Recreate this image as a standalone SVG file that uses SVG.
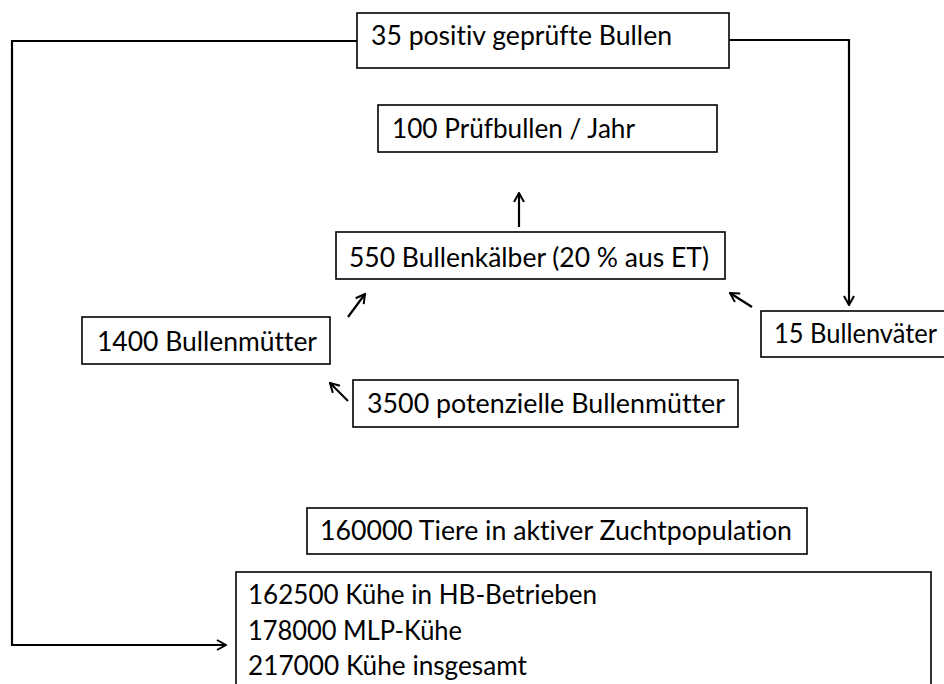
<svg xmlns="http://www.w3.org/2000/svg" width="944" height="684" viewBox="0 0 944 684">
<defs>
<marker id="ah" viewBox="0 0 12 12" refX="11" refY="6" markerWidth="12" markerHeight="12" markerUnits="userSpaceOnUse" orient="auto">
<polyline points="2,1 11,6 2,11" fill="none" stroke="#000" stroke-width="2"/>
</marker>
<marker id="ahs" viewBox="0 0 12 12" refX="11" refY="6" markerWidth="12" markerHeight="12" markerUnits="userSpaceOnUse" orient="auto">
<polyline points="2,1 11,6 2,11" fill="none" stroke="#000" stroke-width="2"/>
</marker>
</defs>
<style>
.box{fill:#fff;stroke:#000;stroke-width:1.6}
.t{font-family:Lato,"Open Sans","Liberation Sans",sans-serif;font-size:26px;fill:#000;font-variant-ligatures:none}
.c{fill:none;stroke:#000;stroke-width:2.2}
</style>
<rect width="944" height="684" fill="#fff"/>
<g id="connectors">
<polyline class="c" points="357,41 12,41 12,645 226,645" marker-end="url(#ah)"/>
<polyline class="c" points="729,40 849,40 849,305" marker-end="url(#ah)"/>
<line class="c" x1="519" y1="227" x2="519" y2="193" marker-end="url(#ahs)"/>
<line class="c" x1="348" y1="317" x2="365" y2="294" marker-end="url(#ahs)"/>
<line class="c" x1="752" y1="307" x2="730" y2="293" marker-end="url(#ahs)"/>
<line class="c" x1="348" y1="401" x2="330" y2="383" marker-end="url(#ahs)"/>
</g>
<g id="n35">
<rect class="box" x="357" y="13" width="372" height="55"/>
<text class="t" x="371" y="45" textLength="301" lengthAdjust="spacingAndGlyphs">35 positiv geprüfte Bullen</text>
</g>
<g id="n100">
<rect class="box" x="378" y="105" width="339" height="47"/>
<text class="t" x="392" y="138" textLength="243" lengthAdjust="spacingAndGlyphs">100 Prüfbullen / Jahr</text>
</g>
<g id="n550">
<rect class="box" x="336" y="232" width="389" height="47"/>
<text class="t" x="349" y="267" textLength="360" lengthAdjust="spacingAndGlyphs">550 Bullenkälber (20 % aus ET)</text>
</g>
<g id="n1400">
<rect class="box" x="82" y="317" width="248" height="47"/>
<text class="t" x="97" y="351" textLength="220" lengthAdjust="spacingAndGlyphs">1400 Bullenmütter</text>
</g>
<g id="n15">
<rect class="box" x="761" y="311" width="200" height="46"/>
<text class="t" x="774" y="343" textLength="163" lengthAdjust="spacingAndGlyphs">15 Bullenväter</text>
</g>
<g id="n3500">
<rect class="box" x="353" y="380" width="385" height="47"/>
<text class="t" x="367" y="413" textLength="358" lengthAdjust="spacingAndGlyphs">3500 potenzielle Bullenmütter</text>
</g>
<g id="n160000">
<rect class="box" x="307" y="508" width="500" height="46"/>
<text class="t" x="320" y="540" textLength="472" lengthAdjust="spacingAndGlyphs">160000 Tiere in aktiver Zuchtpopulation</text>
</g>
<g id="nKuehe">
<rect class="box" x="236" y="572" width="695" height="130"/>
<text class="t" x="248" y="604" textLength="349" lengthAdjust="spacingAndGlyphs">162500 Kühe in HB-Betrieben</text>
<text class="t" x="248" y="640" textLength="214" lengthAdjust="spacingAndGlyphs">178000 MLP-Kühe</text>
<text class="t" x="248" y="675" textLength="279" lengthAdjust="spacingAndGlyphs">217000 Kühe insgesamt</text>
</g>
</svg>
